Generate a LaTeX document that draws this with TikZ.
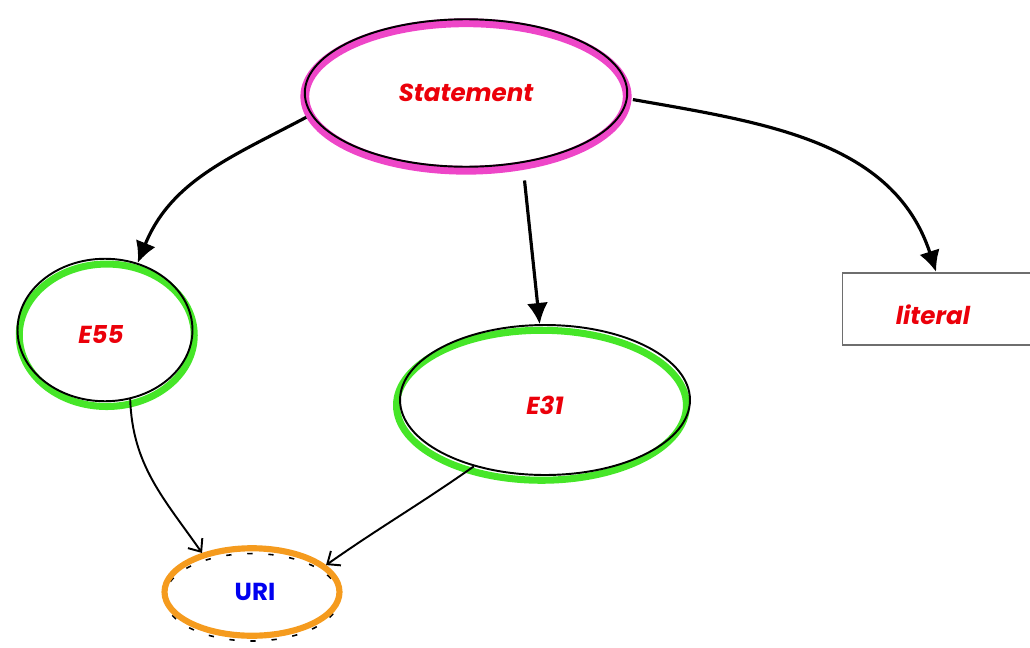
\documentclass[tikz,border=0pt]{standalone}
\usepackage{fontspec}
\setmainfont{Poppins}
\usetikzlibrary{shapes.geometric,arrows.meta}
\definecolor{penpink}{RGB}{238,70,200}
\definecolor{pengreen}{RGB}{70,230,40}
\definecolor{penorange}{RGB}{245,155,30}
\definecolor{penred}{RGB}{235,0,10}
\definecolor{penblue}{RGB}{0,0,240}
\definecolor{pengray}{RGB}{110,110,110}
\begin{document}
\begin{tikzpicture}[x=0.02cm,y=0.02cm,
  word/.style={text=penred,font=\fontsize{14}{16}\selectfont\bfseries\itshape},
  blob/.style={ellipse,draw=black,line width=1.1pt,inner sep=0pt},
  stmtblob/.style={blob,minimum width=6.45cm,minimum height=2.95cm,
    preaction={draw=penpink,line width=5pt,transform canvas={yshift=-2pt}}},
  eblob/.style={blob,preaction={draw=pengreen,line width=4pt,transform canvas={xshift=#1,yshift=-3pt}}},
  uriblob/.style={ellipse,draw=penorange,line width=3.5pt,minimum width=3.5cm,minimum height=1.75cm,
    preaction={draw=black,line width=0.9pt,dashed,dash pattern=on 3pt off 9pt,transform canvas={yshift=-3pt}}},
  litbox/.style={draw=pengray,line width=1pt,minimum width=3.9cm,minimum height=1.45cm},
  bigarrow/.style={line width=1.8pt,-{Latex[length=12pt,width=12pt]}},
  smallarrow/.style={line width=1.1pt,-{Straight Barb[length=6pt,width=10pt]}}]

\useasboundingbox (0,0) rectangle (1030,647);

\draw (466,554) node(STMT)[stmtblob]{};
\draw (466,554) node(STMTTXT)[word]{Statement};
\draw (105,317) node(E55)[eblob=1pt,minimum width=3.5cm,minimum height=2.85cm]{};
\draw (101,312) node(E55TXT)[word]{E55};
\draw (545,247) node(E31)[eblob=-2pt,minimum width=5.8cm,minimum height=3.0cm]{};
\draw (545,242) node(E31TXT)[word]{E31};
\draw (940,338) node(LIT)[litbox]{};
\draw (933,332) node(LITTXT)[word]{literal};
\draw (252,55) node(URI)[uriblob]{};
\draw (255,55) node(URITXT)[text=penblue,font=\fontsize{14}{16}\selectfont\bfseries]{URI};

\draw[bigarrow,shorten <=3pt] (STMT.188) to[out=208,in=68] (E55.64);
\draw[bigarrow,shorten <=10pt] (STMT.-51) -- (E31.94);
\draw[bigarrow,shorten <=3pt] (STMT.-2) to[out=-10,in=108] (LIT.96);

\draw[smallarrow] (E55.-70) to[out=-88,in=125] (URI.142);
\draw[smallarrow] (E31.-137) to[out=215,in=35] (URI.20);

\end{tikzpicture}
\end{document}
